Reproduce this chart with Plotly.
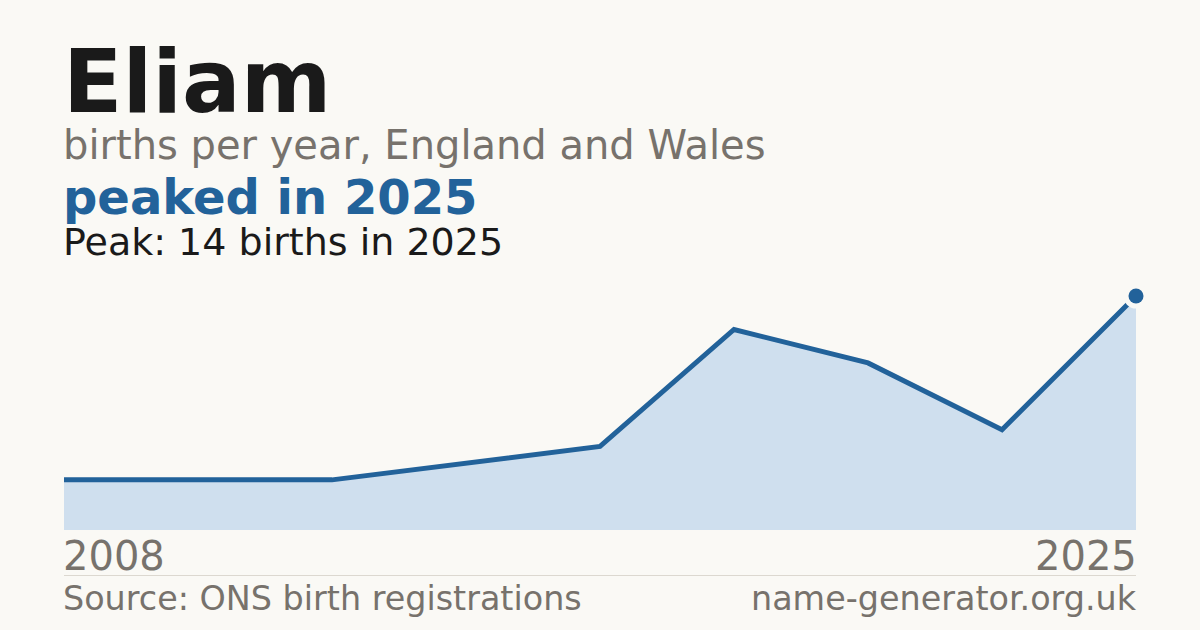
import plotly.graph_objects as go

# births per year for Eliam, England and Wales (points where the line bends)
slot = [0, 2, 4, 5, 6, 7, 8]
births = [3, 3, 5, 12, 10, 6, 14]
first_year = '2008'
last_year = '2025'
name = 'Eliam'

peak = max(births)
peak_slot = slot[births.index(peak)]

# colours
bg = '#faf9f5'
ink = '#1a1a1a'
grey = '#77726c'
blue = '#22629a'
fill = '#cfdfee'
rule = '#dcd8d0'
font = 'DejaVu Sans'

# page geometry (px)
W, H = 1200, 630
L, R, T, B = 64, 64, 280, 100

def px(x):
    return (x - L) / (W - L - R)

def py(y):
    return (H - B - y) / (H - T - B)

fig = go.Figure()

# filled area + line
fig.add_trace(go.Scatter(x=slot, y=births, mode='lines', fill='tozeroy',
                         fillcolor=fill, line=dict(color=blue, width=5),
                         hoverinfo='skip'))

# halo + dot on the peak
fig.add_trace(go.Scatter(x=[peak_slot], y=[peak], mode='markers',
                         marker=dict(size=25, color=bg), cliponaxis=False,
                         hoverinfo='skip'))
fig.add_trace(go.Scatter(x=[peak_slot], y=[peak], mode='markers',
                         marker=dict(size=15, color=blue), cliponaxis=False,
                         hoverinfo='skip'))

def label(text, x, y, size, color, anchor='left', bold=False, xref='paper'):
    if bold:
        text = '<b>' + text + '</b>'
    # annotations carry a few px of padding, nudge them back to the edge
    shift = -3 if anchor == 'left' else 3
    fig.add_annotation(text=text, x=x, y=py(y), xref=xref, yref='paper',
                       xanchor=anchor, yanchor='middle', showarrow=False,
                       xshift=shift,
                       font=dict(family=font, size=size, color=color))

label(name, px(64), 82, 87, ink, bold=True)
label('births per year, England and Wales', px(64), 145, 40, grey)
label('peaked in ' + last_year, px(64), 197, 48, blue, bold=True)
label('Peak: %d births in %s' % (peak, last_year), px(64), 241.5, 38, ink)

# end-year labels, placed on the data axis
label(first_year, slot[0], 556, 40, grey, xref='x')
label(last_year, slot[-1], 556, 40, grey, anchor='right', xref='x')

label('Source: ONS birth registrations', px(64), 598.5, 33.4, grey)
label('name-generator.org.uk', px(1136), 598.5, 33.4, grey, anchor='right')

fig.add_shape(type='line', xref='paper', yref='paper', x0=0, x1=1,
              y0=py(575.5), y1=py(575.5), line=dict(color=rule, width=1))

fig.update_layout(
    width=W, height=H, autosize=False,
    margin=dict(l=L, r=R, t=T, b=B, pad=0),
    paper_bgcolor=bg, plot_bgcolor=bg,
    showlegend=False,
    xaxis=dict(range=[slot[0], slot[-1]], visible=False, fixedrange=True),
    yaxis=dict(range=[0, 14.96], visible=False, fixedrange=True),
)

fig.write_html('out.html', config={'displayModeBar': False},
               post_script="document.body.style.margin='0';")
